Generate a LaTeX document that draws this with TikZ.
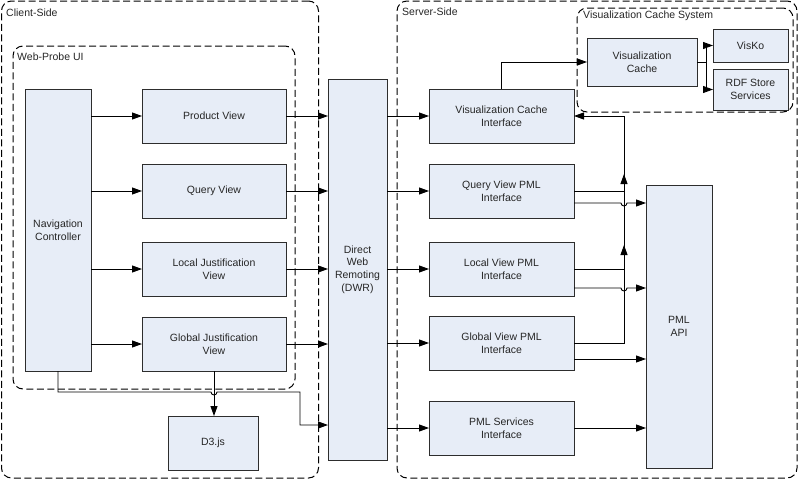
\documentclass[tikz,border=0pt]{standalone}
\usepackage{fontspec}
\setmainfont{Liberation Sans}
\usetikzlibrary{arrows.meta,calc}
\definecolor{boxfill}{RGB}{231,237,247}
\definecolor{boxline}{RGB}{45,45,45}
\begin{document}
\begin{tikzpicture}[x=1pt,y=-1pt,
  font=\fontsize{10.5}{12.7}\selectfont,
  comp/.style={draw=boxline,fill=boxfill,line width=0.9pt,inner sep=0pt,outer sep=0pt,align=center,text=black!85},
  grp/.style={draw=black,dash pattern=on 7pt off 3.5pt,line width=1pt,rounded corners=10pt,inner sep=0pt,outer sep=0pt},
  grplabel/.style={anchor=west,inner sep=0pt,text=black!85},
  conn/.style={draw=black,line width=0.9pt},
  arr/.style={conn,-{Triangle[length=10pt,width=7pt]}}]
\useasboundingbox (0,0) rectangle (800,480);
% containers
\node[grp,minimum width=317pt,minimum height=477pt] (client) at (160,239.5) {};
\node[grp,minimum width=282pt,minimum height=343pt] (webprobe) at (154,217.5) {};
\node[grp,minimum width=400pt,minimum height=477pt] (server) at (597,239.5) {};
\node[grp,minimum width=216pt,minimum height=104pt] (vcs) at (685,60) {};
\node[grplabel] (clientlbl) at (6,12.5) {Client-Side};
\node[grplabel] (webprobelbl) at (17,57) {Web-Probe UI};
\node[grplabel] (serverlbl) at (402,12) {Server-Side};
\node[grplabel] (vcslbl) at (583,16) {Visualization Cache System};
% client components
\node[comp,minimum width=66pt,minimum height=282pt] (nav) at (58,230) {Navigation\\Controller};
\node[comp,minimum width=144pt,minimum height=54pt] (prod) at (214,116) {Product View};
\node[comp,minimum width=144pt,minimum height=54pt] (query) at (214,191) {Query View};
\node[comp,minimum width=144pt,minimum height=54pt] (local) at (214,269) {Local Justification\\View};
\node[comp,minimum width=144pt,minimum height=54pt] (global) at (214,344) {Global Justification\\View};
\node[comp,minimum width=90pt,minimum height=54pt] (d3) at (213,443) {D3.js};
\node[comp,minimum width=59pt,minimum height=381pt] (dwr) at (357.5,269.5) {Direct\\Web\\Remoting\\(DWR)};
% server components
\node[comp,minimum width=145pt,minimum height=54pt] (vci) at (501.5,116) {Visualization Cache\\Interface};
\node[comp,minimum width=145pt,minimum height=54pt] (qpml) at (501.5,191) {Query View PML\\Interface};
\node[comp,minimum width=145pt,minimum height=54pt] (lpml) at (501.5,269) {Local View PML\\Interface};
\node[comp,minimum width=145pt,minimum height=54pt] (gpml) at (501.5,343) {Global View PML\\Interface};
\node[comp,minimum width=145pt,minimum height=54pt] (spml) at (501.5,428) {PML Services\\Interface};
\node[comp,minimum width=66pt,minimum height=283pt] (pmlapi) at (679,326.5) {PML\\API};
\node[comp,minimum width=110pt,minimum height=48pt] (viscache) at (642,62) {Visualization\\Cache};
\node[comp,minimum width=75pt,minimum height=33pt] (visko) at (750.5,45.5) {VisKo};
\node[comp,minimum width=75pt,minimum height=41pt] (rdf) at (750.5,89.5) {RDF Store\\Services};
% navigation to views
\foreach \v in {prod,query,local,global}{
  \draw[arr] (nav.east |- \v.west) -- (\v.west);
  \draw[arr] (\v.east) -- (\v.east -| dwr.west);
}
% DWR to server interfaces
\foreach \v in {vci,qpml,lpml,gpml,spml}{
  \draw[arr] (dwr.east |- \v.west) -- (\v.west);
}
% global view to D3
\draw[arr] (global.south) -- (global.south |- d3.north);
% navigation controller to DWR (hop over D3 line)
\coordinate (navbend) at (300,392);
\coordinate (navdown) at (300,425);
\draw[arr] (nav.south) |- ($(global.south |- navbend)+(-3,0)$)
  arc[start angle=180,end angle=360,radius=3pt] -- (navbend) -- (navdown) -- (navdown -| dwr.west);
% vis cache interface to vis cache
\draw[arr] (vci.north) |- (viscache.west);
% vis cache to VisKo / RDF
\coordinate (vcbranch) at (706,62);
\draw[conn] (viscache.east) -- (vcbranch);
\draw[arr] (vcbranch) |- (visko.west);
\draw[arr] (vcbranch) |- (rdf.west);
% PML interfaces back to vis cache interface
\coordinate (mtop) at (624,116);
\coordinate (qtip) at (624,174);
\coordinate (ltip) at (624,245);
\draw[arr] (gpml.east) -| (mtop) -- (vci.east);
\draw[arr] (qpml.east) -| (qtip);
\draw[arr] (lpml.east) -| (ltip);
% PML interfaces to PML API
\coordinate (q2) at ($(qpml.east)+(0,12)$);
\coordinate (l2) at ($(lpml.east)+(0,19)$);
\coordinate (g2) at ($(gpml.east)+(0,16)$);
\draw[arr] (q2) -- ($(q2 -| mtop)+(-3,0)$) arc[start angle=180,end angle=360,radius=3pt] -- (q2 -| pmlapi.west);
\draw[arr] (l2) -- ($(l2 -| mtop)+(-3,0)$) arc[start angle=180,end angle=360,radius=3pt] -- (l2 -| pmlapi.west);
\draw[arr] (g2) -- (g2 -| pmlapi.west);
\draw[arr] (spml.east) -- (spml.east -| pmlapi.west);
\end{tikzpicture}
\end{document}
